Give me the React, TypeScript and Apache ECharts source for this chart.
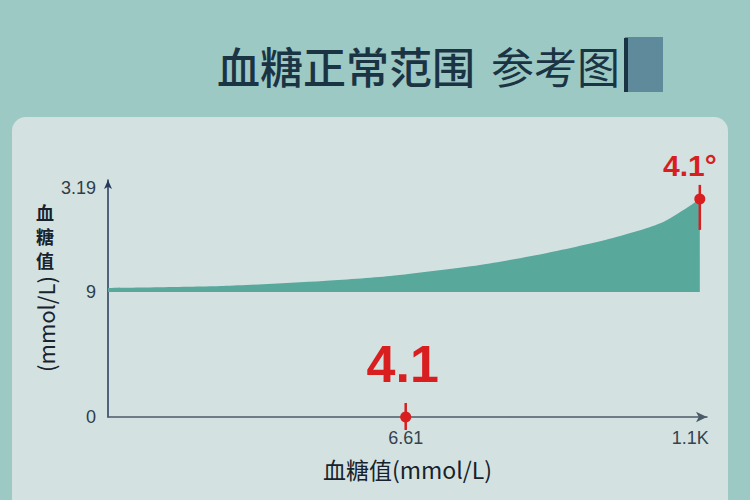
import React, { useEffect, useRef } from "react";
import * as echarts from "echarts";

// ---- data ----
const curveX = [0, 1.92, 3.59, 4.71, 6.21, 7.33, 8.43, 9.27, 9.88];
const curveY = [9.29, 9.43, 9.79, 10.15, 10.94, 11.81, 12.89, 14.04, 15.7];
const baseLevel = 9;

const yTickValues = [0, 9, 16.49];
const yTickLabels = ["0", "9", "3.19"];
const xTickValues = [4.97, 9.72];
const xTickLabels = ["6.61", "1.1K"];

const markerX = [4.97, 9.88];
const markerY = [0, 15.7];
const markerLabels = ["4.1", "4.1°"];

const titleMain = "血糖正常范围";
const titleSub = "参考图";
const axisName = "血糖值(mmol/L)";
const yNameChars = ["血", "糖", "值"];
const yNameUnit = "(mmol/L)";

// ---- marker styling (by index) ----
const markerStyles = [
  { up: 14, down: 13, fontSize: 52, dx: -3, dy: -53 },
  { up: 14, down: 31, fontSize: 30, dx: -10, dy: -33 },
];

function nearestLabel(v: number, values: number[], labels: string[]) {
  let best = 0;
  for (let i = 1; i < values.length; i++) {
    if (Math.abs(values[i] - v) < Math.abs(values[best] - v)) best = i;
  }
  return labels[best];
}

export default function App() {
  const ref = useRef<HTMLDivElement>(null);
  useEffect(() => {
    document.body.style.margin = "0";
    const chart = echarts.init(ref.current!, null, { renderer: "svg" });
    const red = "#d81e1e";
    const ink = "#17222c";
    chart.setOption({
      animation: false,
      backgroundColor: "#9dc9c4",
      grid: { left: 108, right: 43, top: 180, bottom: 83 },
      xAxis: {
        type: "value",
        min: 0,
        max: 10,
        splitLine: { show: false },
        axisTick: { show: false },
        axisLine: {
          show: true,
          lineStyle: { color: "#4b5a68", width: 1.5 },
          symbol: ["none", "arrow"],
          symbolSize: [8, 11],
        },
        axisLabel: {
          customValues: xTickValues,
          formatter: (v: number) => nearestLabel(v, xTickValues, xTickLabels),
          color: "#35434f",
          fontSize: 18,
          fontFamily: "Liberation Sans",
          margin: 12,
        },
        name: axisName,
        nameLocation: "middle",
        nameGap: 40,
        nameTextStyle: {
          color: ink,
          fontSize: 23,
          fontFamily: "Noto Sans CJK SC",
        },
      },
      yAxis: {
        type: "value",
        min: 0,
        max: 17.06,
        splitLine: { show: false },
        axisTick: { show: false },
        axisLine: {
          show: true,
          lineStyle: { color: "#25395c", width: 1.5 },
          symbol: ["none", "arrow"],
          symbolSize: [6, 9],
        },
        axisLabel: {
          customValues: yTickValues,
          formatter: (v: number) => nearestLabel(v, yTickValues, yTickLabels),
          color: "#2f3d4a",
          fontSize: 18,
          fontFamily: "Liberation Sans",
          margin: 12,
        },
      },
      graphic: [
        {
          type: "rect",
          z: -10,
          shape: { x: 12, y: 117, width: 716, height: 420, r: 14 },
          style: { fill: "#d3e2e0" },
        },
        {
          type: "rect",
          z: -9,
          shape: { x: 625, y: 37, width: 38, height: 55 },
          style: { fill: "#5f8a9c" },
        },
        {
          type: "rect",
          z: -8,
          shape: { x: 624, y: 38, width: 4, height: 54 },
          style: { fill: "#1b3444" },
        },
        {
          type: "text",
          x: 217,
          y: 65,
          style: {
            text: `{a|${titleMain}}{b|${titleSub}}`,
            verticalAlign: "middle",
            fill: "#1b3444",
            rich: {
              a: { fontSize: 43, fontWeight: 500, fontFamily: "Noto Sans CJK SC", fill: "#1b3444" },
              b: {
                fontSize: 43,
                fontWeight: "normal",
                fontFamily: "Noto Sans CJK SC",
                fill: "#1b3444",
                padding: [0, 0, 0, 16],
              },
            },
          },
        },
        ...yNameChars.map((c, i) => ({
          type: "text",
          x: 45,
          y: 212 + i * 24,
          style: {
            text: c,
            align: "center",
            verticalAlign: "middle",
            fontSize: 18,
            fontWeight: "bold",
            fontFamily: "Noto Sans CJK SC",
            fill: ink,
          },
        })),
        {
          type: "text",
          x: 45,
          y: 324,
          rotation: Math.PI / 2,
          style: {
            text: yNameUnit,
            align: "center",
            verticalAlign: "middle",
            fontSize: 22,
            fontFamily: "Noto Sans CJK SC",
            fill: ink,
          },
        },
      ],
      series: [
        {
          type: "line",
          data: curveX.map((x, i) => [x, curveY[i]]),
          smooth: 0.25,
          symbol: "none",
          lineStyle: { width: 0 },
          areaStyle: { color: "#58a89c", opacity: 1, origin: baseLevel },
          z: 2,
        },
        {
          type: "custom",
          clip: false,
          z: 5,
          data: markerX.map((x, i) => [x, markerY[i]]),
          renderItem: (params: any, api: any) => {
            const i = params.dataIndex;
            const s = markerStyles[i];
            const p = api.coord([api.value(0), api.value(1)]);
            return {
              type: "group",
              children: [
                {
                  type: "line",
                  shape: { x1: p[0], y1: p[1] - s.up, x2: p[0], y2: p[1] + s.down },
                  style: { stroke: red, lineWidth: 2.5 },
                },
                {
                  type: "circle",
                  shape: { cx: p[0], cy: p[1], r: 5.5 },
                  style: { fill: red },
                },
                {
                  type: "text",
                  x: p[0] + s.dx,
                  y: p[1] + s.dy,
                  style: {
                    text: markerLabels[i],
                    align: "center",
                    verticalAlign: "middle",
                    fontSize: s.fontSize,
                    fontWeight: "bold",
                    fontFamily: "Liberation Sans",
                    fill: red,
                  },
                },
              ],
            };
          },
        },
      ],
    });
    return () => chart.dispose();
  }, []);
  return (
    <div
      ref={ref}
      style={{ position: "absolute", left: 0, top: 0, width: 750, height: 500 }}
    />
  );
}
